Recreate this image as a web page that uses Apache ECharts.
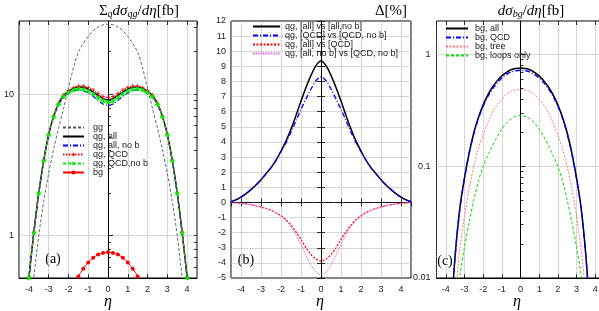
<!DOCTYPE html>
<html><head><meta charset="utf-8">
<script src="https://cdn.jsdelivr.net/npm/echarts@6/dist/echarts.min.js"></script>
<style>html,body{margin:0;padding:0;background:#fff}#c{width:599px;height:311px}</style>
</head><body><div id="c"></div>
<script>
const eta = [-4.5,-4.25,-4,-3.75,-3.5,-3.25,-3,-2.75,-2.5,-2.25,-2,-1.75,-1.5,-1.25,-1,-0.75,-0.5,-0.25,0,0.25,0.5,0.75,1,1.25,1.5,1.75,2,2.25,2.5,2.75,3,3.25,3.5,3.75,4,4.25,4.5];

// panel (a): sum_q dsigma_qg/deta [fb]
const gg        = [0.035,0.09,0.22,0.5,1.0,1.74,2.75,4.07,5.75,7.9,11.0,15.3,19.8,22.9,25.7,28.2,29.9,31.0,31.3,31.0,29.9,28.2,25.7,22.9,19.8,15.3,11.0,7.9,5.75,4.07,2.75,1.74,1.0,0.5,0.22,0.09,0.035];
const qgAll     = [0.08,0.22,0.5,1.05,2.0,3.4,5.2,7.0,8.6,9.8,10.5,11.0,11.25,11.2,10.9,10.4,9.8,9.3,9.12,9.3,9.8,10.4,10.9,11.2,11.25,11.0,10.5,9.8,8.6,7.0,5.2,3.4,2.0,1.05,0.5,0.22,0.08];
const qgAllNob  = [0.08,0.22,0.5,1.04,1.98,3.36,5.12,6.87,8.41,9.53,10.15,10.57,10.73,10.59,10.22,9.67,9.04,8.53,8.34,8.53,9.04,9.67,10.22,10.59,10.73,10.57,10.15,9.53,8.41,6.87,5.12,3.36,1.98,1.04,0.5,0.22,0.08];
const qgQCD     = [0.08,0.22,0.5,1.05,2.0,3.41,5.22,7.03,8.64,9.87,10.59,11.13,11.42,11.42,11.17,10.72,10.15,9.66,9.49,9.66,10.15,10.72,11.17,11.42,11.42,11.13,10.59,9.87,8.64,7.03,5.22,3.41,2.0,1.05,0.5,0.22,0.08];
const qgQCDNob  = [0.08,0.22,0.5,1.04,1.98,3.37,5.14,6.9,8.46,9.6,10.24,10.7,10.9,10.82,10.51,10.02,9.43,8.94,8.76,8.94,9.43,10.02,10.51,10.82,10.9,10.7,10.24,9.6,8.46,6.9,5.14,3.37,1.98,1.04,0.5,0.22,0.08];

// panel (c): dsigma_bg/deta [fb]  (bgAll also drawn in panel a)
const bgAll   = [0.00001,0.0001,0.0008,0.004,0.016,0.042,0.079,0.132,0.2,0.275,0.355,0.436,0.513,0.582,0.645,0.695,0.733,0.752,0.76,0.752,0.733,0.695,0.645,0.582,0.513,0.436,0.355,0.275,0.2,0.132,0.079,0.042,0.016,0.004,0.0008,0.0001,0.00001];
const bgQCD   = [0.00001,0.0001,0.0008,0.004,0.0158,0.0415,0.078,0.13,0.196,0.269,0.346,0.422,0.493,0.558,0.618,0.665,0.7,0.718,0.725,0.718,0.7,0.665,0.618,0.558,0.493,0.422,0.346,0.269,0.196,0.13,0.078,0.0415,0.0158,0.004,0.0008,0.0001,0.00001];
const bgTree  = [0.000005,0.00004,0.0003,0.0016,0.0066,0.018,0.036,0.063,0.1,0.145,0.19,0.245,0.302,0.355,0.398,0.444,0.468,0.481,0.486,0.481,0.468,0.444,0.398,0.355,0.302,0.245,0.19,0.145,0.1,0.063,0.036,0.018,0.0066,0.0016,0.0003,0.00004,0.000005];
const bgLoops = [0.00002,0.0001,0.0006,0.002,0.005,0.0105,0.019,0.0316,0.05,0.074,0.1,0.1245,0.153,0.184,0.216,0.244,0.266,0.28,0.284,0.28,0.266,0.244,0.216,0.184,0.153,0.1245,0.1,0.074,0.05,0.0316,0.019,0.0105,0.005,0.002,0.0006,0.0001,0.00002];

// panel (b): Delta [%]
const dAllNob = [0.05,0.17,0.35,0.58,0.85,1.15,1.5,1.9,2.3,2.8,3.4,4.05,4.85,5.75,6.7,7.6,8.4,9.05,9.35,9.05,8.4,7.6,6.7,5.75,4.85,4.05,3.4,2.8,2.3,1.9,1.5,1.15,0.85,0.58,0.35,0.17,0.05];
const dQCDNob = [0.06,0.17,0.35,0.58,0.85,1.15,1.5,1.89,2.29,2.78,3.35,3.95,4.65,5.4,6.15,6.85,7.5,8.05,8.3,8.05,7.5,6.85,6.15,5.4,4.65,3.95,3.35,2.78,2.29,1.89,1.5,1.15,0.85,0.58,0.35,0.17,0.06];
const dAllQCD = [-0.01,-0.03,-0.06,-0.1,-0.15,-0.22,-0.3,-0.4,-0.52,-0.68,-0.88,-1.15,-1.5,-1.95,-2.45,-3.0,-3.45,-3.75,-3.88,-3.75,-3.45,-3.0,-2.45,-1.95,-1.5,-1.15,-0.88,-0.68,-0.52,-0.4,-0.3,-0.22,-0.15,-0.1,-0.06,-0.03,-0.01];
const dNobQCD = [-0.01,-0.03,-0.06,-0.1,-0.15,-0.22,-0.31,-0.41,-0.54,-0.7,-0.92,-1.2,-1.6,-2.15,-2.8,-3.5,-4.15,-4.6,-4.8,-4.6,-4.15,-3.5,-2.8,-2.15,-1.6,-1.2,-0.92,-0.7,-0.54,-0.41,-0.31,-0.22,-0.15,-0.1,-0.06,-0.03,-0.01];

const legendA = ['gg','qg, all','qg, all, no b','qg, QCD','qg, QCD,no b','bg'];
const legendB = ['qg, [all] vs [all,no b]','qg, [QCD] vs [QCD, no b]','qg, [all] vs [QCD]','qg, [all, no b] vs [QCD, no b]'];
const legendC = ['bg, all','bg, QCD','bg, tree','bg, loops only'];
const withMarker = ['qg, QCD','qg, QCD,no b','bg'];

const pairs = ys => eta.map((x,i)=>[x, ys[i]]);
const legItems = names => names.map(n => withMarker.includes(n) ? {name:n} : {name:n, itemStyle:{opacity:0}});
const SANS = 'Liberation Sans';
const SERIF = 'Liberation Serif';
const gridLine = {show:true, lineStyle:{type:'dotted', color:'#9a9a9a', width:0.8}};
const tickIn = (len) => ({show:true, inside:true, length:len, lineStyle:{color:'#000', width:0.8}});
const lbl = {fontSize:9, color:'#222', fontFamily:SANS, showMinLabel:false, showMaxLabel:false};

function xMain(g){ return {type:'value', gridIndex:g, min:-4.5, max:4.5, splitNumber:9,
  axisLine:{show:true, lineStyle:{color:'#000', width:1}}, axisTick:tickIn(4),
  axisLabel:Object.assign({margin:7}, lbl), splitLine:gridLine}; }
function xTop(g){ return {type:'value', gridIndex:g, position:'top', min:-4.5, max:4.5, splitNumber:9,
  axisLine:{show:false}, axisTick:tickIn(4), axisLabel:{show:false}, splitLine:{show:false}}; }

const plus = 'path://M4,0h2v4h4v2h-4v4h-2v-4h-4v-2h4z';
const star = 'path://M4,0h2v3.3l2.5-2.5 1.4,1.4-2.5,2.5h3.6v2h-3.6l2.5,2.5-1.4,1.4-2.5-2.5v3.3h-2v-3.3l-2.5,2.5-1.4-1.4 2.5-2.5h-3.6v-2h3.6l-2.5-2.5 1.4-1.4 2.5,2.5z';

const minorA = [0.6,0.7,0.8,0.9,2,3,4,5,6,7,8,9,20,30];
const minorC = [0.02,0.03,0.04,0.05,0.06,0.07,0.08,0.09,0.2,0.3,0.4,0.5,0.6,0.7,0.8,0.9];

const legTxt = (lh, padL) => ({fontSize:9, lineHeight:lh, height:lh, color:'#222', fontFamily:SANS, padding:[0,0,0,padL]});

const chart = echarts.init(document.getElementById('c'), null, {renderer:'canvas'});
chart.setOption({
  animation:false,
  backgroundColor:'#fff',
  grid:[
    {left:19, top:21, width:178, height:257, show:true, borderColor:'#000', borderWidth:1, containLabel:false, outerBoundsMode:'none'},
    {left:231, top:21, width:180, height:257, show:true, borderColor:'#000', borderWidth:1, containLabel:false, outerBoundsMode:'none'},
    {left:436.5, top:21, width:168, height:257, show:true, borderColor:'#000', borderWidth:1, containLabel:false, outerBoundsMode:'none'}
  ],
  xAxis:[xMain(0), xMain(1), xMain(2), xTop(0), xTop(1), xTop(2)],
  yAxis:[
    {type:'log', gridIndex:0, min:0.5, max:33, logBase:10,
     axisLine:{show:true, lineStyle:{color:'#000'}}, axisTick:tickIn(5),
     axisLabel:Object.assign({margin:5}, lbl), splitLine:gridLine},
    {type:'value', gridIndex:1, min:-5, max:12, interval:1,
     axisLine:{show:true, lineStyle:{color:'#000'}}, axisTick:tickIn(4),
     axisLabel:Object.assign({margin:5}, lbl, {showMinLabel:true, showMaxLabel:true}), splitLine:gridLine},
    {type:'log', gridIndex:2, min:0.01, max:2, logBase:10,
     axisLine:{show:true, lineStyle:{color:'#000'}}, axisTick:tickIn(5),
     axisLabel:Object.assign({margin:6}, lbl, {showMinLabel:true, formatter: v => String(v)}), splitLine:gridLine},
    {type:'log', gridIndex:0, min:0.5, max:33, position:'left', axisLine:{show:false},
     axisTick:Object.assign(tickIn(3), {customValues:minorA}), axisLabel:{show:false}, splitLine:{show:false}},
    {type:'log', gridIndex:0, min:0.5, max:33, position:'right', axisLine:{show:false},
     axisTick:Object.assign(tickIn(3), {customValues:minorA.concat([1,10])}), axisLabel:{show:false}, splitLine:{show:false}},
    {type:'value', gridIndex:1, min:-5, max:12, interval:1, position:'right', axisLine:{show:false},
     axisTick:tickIn(4), axisLabel:{show:false}, splitLine:{show:false}},
    {type:'log', gridIndex:2, min:0.01, max:2, position:'left', axisLine:{show:false},
     axisTick:Object.assign(tickIn(3), {customValues:minorC}), axisLabel:{show:false}, splitLine:{show:false}},
    {type:'log', gridIndex:2, min:0.01, max:2, position:'right', axisLine:{show:false},
     axisTick:Object.assign(tickIn(3), {customValues:minorC.concat([0.1,1])}), axisLabel:{show:false}, splitLine:{show:false}}
  ],
  legend:[
    {data:legItems(legendA), left:62, top:123, padding:0, orient:'vertical', itemWidth:21, itemHeight:5, itemGap:0, selectedMode:false,
     textStyle:legTxt(8.5, 4)},
    {data:legItems(legendB), left:252, top:22, padding:0, orient:'vertical', itemWidth:27, itemHeight:5, itemGap:0, selectedMode:false,
     textStyle:legTxt(8.8, 0)},
    {data:legItems(legendC), left:445, top:24, padding:0, orient:'vertical', itemWidth:22, itemHeight:5, itemGap:0, selectedMode:false,
     textStyle:legTxt(8.3, 2)}
  ],
  series:[
    // panel a
    {name:'gg', type:'line', xAxisIndex:0, yAxisIndex:0, data:pairs(gg), smooth:0.3, symbol:'none',
     lineStyle:{color:'#555', width:0.9, type:[3,2]}, itemStyle:{color:'#555'}},
    {name:'qg, all', type:'line', xAxisIndex:0, yAxisIndex:0, data:pairs(qgAll), smooth:0.3, symbol:'none',
     lineStyle:{color:'#000', width:1.5}, itemStyle:{color:'#000'}},
    {name:'qg, all, no b', type:'line', xAxisIndex:0, yAxisIndex:0, data:pairs(qgAllNob), smooth:0.3, symbol:'none',
     lineStyle:{color:'#0000ff', width:1.2, type:[5,2,1,2]}, itemStyle:{color:'#0000ff'}},
    {name:'qg, QCD', type:'line', xAxisIndex:0, yAxisIndex:0, data:pairs(qgQCD), smooth:0.3, symbol:plus, symbolSize:4,
     lineStyle:{color:'#ff0000', width:1, type:[1.5,1.5]}, itemStyle:{color:'#ff0000'}},
    {name:'qg, QCD,no b', type:'line', xAxisIndex:0, yAxisIndex:0, data:pairs(qgQCDNob), smooth:0.3, symbol:star, symbolSize:5,
     lineStyle:{color:'#00ee00', width:1, type:[3,2]}, itemStyle:{color:'#00ee00'}},
    {name:'bg', type:'line', xAxisIndex:0, yAxisIndex:0, data:pairs(bgAll), smooth:0.3, symbol:'circle', symbolSize:4,
     lineStyle:{color:'#ff0000', width:1}, itemStyle:{color:'#ff0000'}},
    // panel b
    {name:'qg, [all] vs [all,no b]', type:'line', xAxisIndex:1, yAxisIndex:1, data:pairs(dAllNob), smooth:0.3, symbol:'none',
     lineStyle:{color:'#000', width:1.5}, itemStyle:{color:'#000'},
     markLine:{silent:true, symbol:'none', label:{show:false}, lineStyle:{type:[5,2,1,2], color:'#333', width:0.8}, data:[{yAxis:0}]}},
    {name:'qg, [QCD] vs [QCD, no b]', type:'line', xAxisIndex:1, yAxisIndex:1, data:pairs(dQCDNob), smooth:0.3, symbol:'none',
     lineStyle:{color:'#0000ff', width:1.3, type:[5,2,1,2]}, itemStyle:{color:'#0000ff'}},
    {name:'qg, [all] vs [QCD]', type:'line', xAxisIndex:1, yAxisIndex:1, data:pairs(dAllQCD), smooth:0.3, symbol:'none',
     lineStyle:{color:'#ff0000', width:1.2, type:[2,1.5]}, itemStyle:{color:'#ff0000'}},
    {name:'qg, [all, no b] vs [QCD, no b]', type:'line', xAxisIndex:1, yAxisIndex:1, data:pairs(dNobQCD), smooth:0.3, symbol:'none',
     lineStyle:{color:'#ee66ee', width:1, type:[1.5,1]}, itemStyle:{color:'#ee66ee'}},
    // panel c
    {name:'bg, all', type:'line', xAxisIndex:2, yAxisIndex:2, data:pairs(bgAll), smooth:0.3, symbol:'none',
     lineStyle:{color:'#000', width:1.5}, itemStyle:{color:'#000'}},
    {name:'bg, QCD', type:'line', xAxisIndex:2, yAxisIndex:2, data:pairs(bgQCD), smooth:0.3, symbol:'none',
     lineStyle:{color:'#0000ff', width:1.4, type:[5,2,1,2]}, itemStyle:{color:'#0000ff'}},
    {name:'bg, tree', type:'line', xAxisIndex:2, yAxisIndex:2, data:pairs(bgTree), smooth:0.3, symbol:'none',
     lineStyle:{color:'#ff7777', width:1, type:[2,1.5]}, itemStyle:{color:'#ff7777'}},
    {name:'bg, loops only', type:'line', xAxisIndex:2, yAxisIndex:2, data:pairs(bgLoops), smooth:0.3, symbol:'none',
     lineStyle:{color:'#00dd00', width:1, type:[3,2]}, itemStyle:{color:'#00dd00'}}
  ],
  graphic:[
    {type:'text', x:139, y:11, style:{
      text:'{u|Σ}{s|q}{i|dσ}{s|qg}{u|/}{i|dη}{u|[fb]}', align:'center', verticalAlign:'middle',
      rich:{u:{fontFamily:SERIF, fontSize:15, fill:'#000'}, i:{fontFamily:SERIF, fontSize:15, fontStyle:'italic', fill:'#000'},
            s:{fontFamily:SERIF, fontSize:10, fontStyle:'italic', fill:'#000', padding:[7,0,0,0]}}}},
    {type:'text', x:391, y:11, style:{
      text:'{u|Δ[%]}', align:'center', verticalAlign:'middle',
      rich:{u:{fontFamily:SERIF, fontSize:15, fill:'#000'}}}},
    {type:'text', x:531, y:11, style:{
      text:'{i|dσ}{s|bg}{u|/}{i|dη}{u|[fb]}', align:'center', verticalAlign:'middle',
      rich:{u:{fontFamily:SERIF, fontSize:15, fill:'#000'}, i:{fontFamily:SERIF, fontSize:15, fontStyle:'italic', fill:'#000'},
            s:{fontFamily:SERIF, fontSize:10, fontStyle:'italic', fill:'#000', padding:[7,0,0,0]}}}},
    {type:'text', x:108, y:302, style:{text:'η', font:'italic 16px "Liberation Serif"', fill:'#000', align:'center', verticalAlign:'middle'}},
    {type:'text', x:320, y:302, style:{text:'η', font:'italic 16px "Liberation Serif"', fill:'#000', align:'center', verticalAlign:'middle'}},
    {type:'text', x:517, y:302, style:{text:'η', font:'italic 16px "Liberation Serif"', fill:'#000', align:'center', verticalAlign:'middle'}},
    {type:'text', x:53, y:259, style:{text:'(a)', font:'14px "Liberation Serif"', fill:'#000', align:'center', verticalAlign:'middle'}},
    {type:'text', x:246, y:260, style:{text:'(b)', font:'14px "Liberation Serif"', fill:'#000', align:'center', verticalAlign:'middle'}},
    {type:'text', x:445, y:261, style:{text:'(c)', font:'14px "Liberation Serif"', fill:'#000', align:'center', verticalAlign:'middle'}}
  ]
});
</script></body></html>
